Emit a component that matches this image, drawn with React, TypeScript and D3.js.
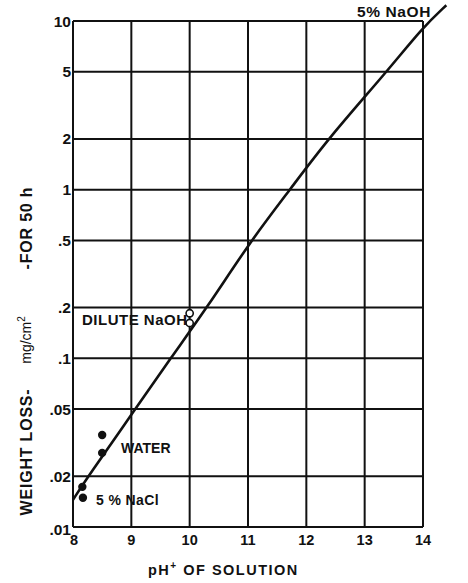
import React from "react";
import * as d3 from "d3";

const xTicks = [8, 9, 10, 11, 12, 13, 14];
const yTicks = [10, 5, 2, 1, 0.5, 0.2, 0.1, 0.05, 0.02, 0.01];
const yTickLabels = ["10", "5", "2", "1", ".5", ".2", ".1", ".05", ".02", ".01"];

const curvePH = [8.0, 8.26, 9.07, 9.67, 10.3, 11.05, 11.72, 12.37, 13.38, 14.0, 14.4];
const curveLoss = [0.0145, 0.02, 0.05, 0.1, 0.2, 0.5, 1, 2, 5, 9.2, 12.4];

const solidPH = [8.5, 8.5, 8.16, 8.17];
const solidLoss = [0.0351, 0.0275, 0.0173, 0.0149];

const openPH = [10.0, 10.0];
const openLoss = [0.185, 0.162];

const labels = ["5% NaOH", "DILUTE NaOH", "WATER", "5 % NaCl"];

const FONT = "'Liberation Sans', Arial, sans-serif";

export default function App() {
  const W = 468, H = 583;
  const x = d3.scaleLinear().domain([8, 14]).range([73, 423]);
  const y = d3.scaleLog().domain([0.01, 10]).range([527, 21]);

  const line = d3
    .line<number>()
    .x((_, i) => x(curvePH[i]))
    .y((_, i) => y(curveLoss[i]))
    .curve(d3.curveBasis);

  const [x0, x1] = x.range();
  const [yb, yt] = y.range();

  return (
    <svg width={W} height={H} style={{ position: "absolute", left: 0, top: 0, background: "#fff" }} fontFamily={FONT}>
      <rect width={W} height={H} fill="#fff" />
      {/* grid */}
      {xTicks.map((t) => (
        <line key={"vx" + t} x1={x(t)} x2={x(t)} y1={yt} y2={yb} stroke="#111" strokeWidth={2} />
      ))}
      {yTicks.map((t) => (
        <line key={"hy" + t} x1={x0} x2={x1} y1={y(t)} y2={y(t)} stroke="#111" strokeWidth={2} />
      ))}
      {/* y tick labels */}
      {yTicks.map((t, i) => (
        <text key={"yl" + t} x={71} y={y(t) + (t === 0.01 ? 2 : 0)} dy="0.36em" textAnchor="end" fontSize={15.5} fontWeight="bold" fill="#111">
          {yTickLabels[i]}
        </text>
      ))}
      {/* x tick labels */}
      {xTicks.map((t) => (
        <text key={"xl" + t} x={x(t) + (t === 8 ? 1 : 0)} y={545} textAnchor="middle" fontSize={14.5} fontWeight="bold" fill="#111">
          {t}
        </text>
      ))}
      {/* curve */}
      <path d={line(curvePH) || ""} fill="none" stroke="#111" strokeWidth={2.6} />
      {/* points */}
      {solidPH.map((p, i) => (
        <circle key={"s" + i} cx={x(p)} cy={y(solidLoss[i])} r={4.2} fill="#111" />
      ))}
      {openPH.map((p, i) => (
        <circle key={"o" + i} cx={x(p)} cy={y(openLoss[i])} r={3.6} fill="#fff" stroke="#111" strokeWidth={1.6} />
      ))}
      {/* labels */}
      <text x={357} y={17} fontSize={15.5} fontWeight="bold" fill="#111" letterSpacing={0.6}>{labels[0]}</text>
      <text x={82} y={325} fontSize={15} fontWeight="bold" fill="#111" letterSpacing={0.5}>{labels[1]}</text>
      <text x={121} y={453} fontSize={14} fontWeight="bold" fill="#111">{labels[2]}</text>
      <text x={96} y={505} fontSize={14} fontWeight="bold" fill="#111" letterSpacing={0.4}>{labels[3]}</text>
      {/* x title */}
      <text x={148} y={575} fontSize={14.5} fontWeight="bold" fill="#111" letterSpacing={1.5}>
        pH<tspan dy={-6} fontSize={10}>+</tspan>
        <tspan dy={6}> OF SOLUTION</tspan>
      </text>
      {/* y title */}
      <text transform="translate(32,452) rotate(-90)" textAnchor="middle" fontSize={16} fontWeight="bold" fill="#111" letterSpacing={0.8}>
        WEIGHT LOSS-
      </text>
      <text transform="translate(31,340) rotate(-90)" textAnchor="middle" fontSize={14} fill="#111">
        mg/cm<tspan dy={-6} fontSize={10}>2</tspan>
      </text>
      <text transform="translate(32,228) rotate(-90)" textAnchor="middle" fontSize={16} fontWeight="bold" fill="#111" letterSpacing={0.8}>
        -FOR 50 h
      </text>
    </svg>
  );
}
